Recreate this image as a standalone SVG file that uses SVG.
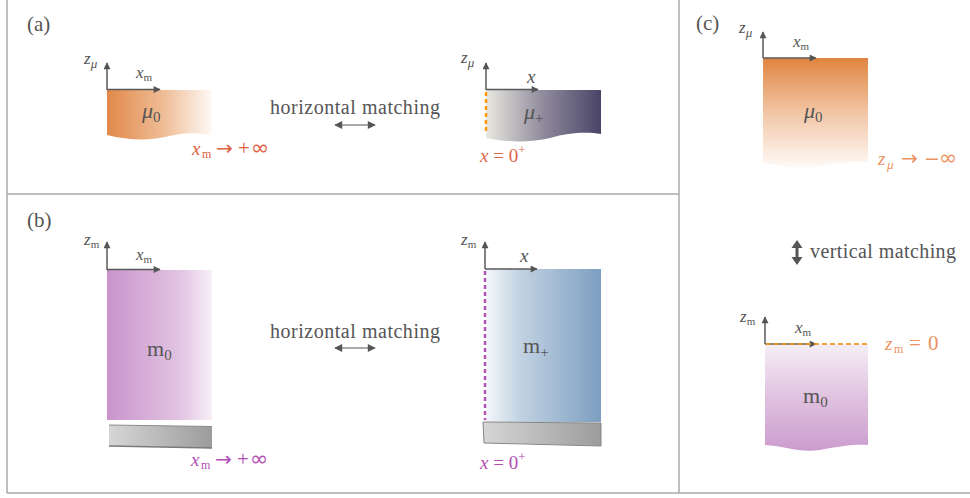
<svg xmlns="http://www.w3.org/2000/svg" width="970" height="498" viewBox="0 0 970 498" font-family="'Liberation Serif', 'DejaVu Serif', serif">
<defs>
<style>
text{font-family:"Liberation Serif","DejaVu Serif",serif;fill:#555}
.lbl{font-size:21px}
.ax{stroke:#5a5a5a;stroke-width:1.5;fill:none}
.i{font-style:italic}
.sym{font-family:"DejaVu Sans",sans-serif}
.frame{stroke:#aaa;stroke-width:1.5;fill:none}
.dbl{stroke:#555;stroke-width:1.2;fill:none}
</style>
<marker id="ah" viewBox="0 0 10 10" refX="9" refY="5" markerWidth="9" markerHeight="8" markerUnits="userSpaceOnUse" orient="auto-start-reverse">
<path d="M0,0 L10,5 L0,10 Z" fill="#555"/>
</marker>
<marker id="ah2" viewBox="0 0 10 10" refX="9" refY="5" markerWidth="8" markerHeight="7" markerUnits="userSpaceOnUse" orient="auto-start-reverse">
<path d="M0,0 L10,5 L0,10 Z" fill="#555"/>
</marker>
<linearGradient id="gOrH" x1="0" y1="0" x2="1" y2="0">
<stop offset="0" stop-color="#e2894a"/><stop offset="0.55" stop-color="#efbe98"/><stop offset="1" stop-color="#fefaf6"/>
</linearGradient>
<linearGradient id="gDark" x1="0" y1="0" x2="1" y2="0">
<stop offset="0" stop-color="#e9e8e0"/><stop offset="0.5" stop-color="#8f8a9c"/><stop offset="1" stop-color="#4a4568"/>
</linearGradient>
<linearGradient id="gPuH" x1="0" y1="0" x2="1" y2="0">
<stop offset="0" stop-color="#c994cc"/><stop offset="0.7" stop-color="#e2c4e2"/><stop offset="1" stop-color="#f7eff7"/>
</linearGradient>
<linearGradient id="gBlue" x1="0" y1="0" x2="1" y2="0">
<stop offset="0" stop-color="#f6f8fb"/><stop offset="0.3" stop-color="#c2d2e2"/><stop offset="1" stop-color="#7d9fc1"/>
</linearGradient>
<linearGradient id="gGray" x1="0" y1="0" x2="1" y2="0">
<stop offset="0" stop-color="#d6d6d6"/><stop offset="1" stop-color="#9c9c9c"/>
</linearGradient>
<linearGradient id="gOrV" x1="0" y1="0" x2="0" y2="1">
<stop offset="0" stop-color="#e08440"/><stop offset="0.5" stop-color="#f2c6a6"/><stop offset="1" stop-color="#fefaf7"/>
</linearGradient>
<linearGradient id="gPuV" x1="0" y1="0" x2="0" y2="1">
<stop offset="0" stop-color="#f6eef6"/><stop offset="0.5" stop-color="#e0c2e0"/><stop offset="1" stop-color="#cb9ccf"/>
</linearGradient>
</defs>

<g id="frame">
<line class="frame" x1="7" y1="0" x2="7" y2="493"/>
<line class="frame" x1="7" y1="493" x2="970" y2="493"/>
<line class="frame" x1="679" y1="0" x2="679" y2="493"/>
<line class="frame" x1="7" y1="194" x2="679" y2="194"/>
</g>

<g id="panel-labels">
<text class="lbl" x="27" y="31">(a)</text>
<text class="lbl" x="27" y="227">(b)</text>
<text class="lbl" x="696" y="30">(c)</text>
</g>

<!-- (a) left -->
<g id="a-mu0">
<path d="M107,90 H212 V135 C195,132 180,133 165,137 C148,141 127,140 107,135 Z" fill="url(#gOrH)"/>
<text x="142" y="118" font-size="22"><tspan class="i">μ</tspan><tspan font-size="15" dy="4">0</tspan></text>
<text y="155" font-size="19" style="fill:#e0603f"><tspan x="192" class="i">x</tspan><tspan x="202" dy="3" font-size="12">m</tspan><tspan x="216" dy="-3" class="sym" font-size="20">→</tspan><tspan x="238" font-size="21">+</tspan><tspan x="251" class="sym" font-size="22">∞</tspan></text>
</g>
<g id="a-mu0-axes">
<line class="ax" x1="107" y1="90" x2="107" y2="63" marker-end="url(#ah2)"/>
<line class="ax" x1="107" y1="89.5" x2="160" y2="89.5" marker-end="url(#ah2)"/>
<text x="84" y="64" font-size="17"><tspan class="i">z</tspan><tspan class="i" font-size="13" dy="4">μ</tspan></text>
<text x="136" y="78" font-size="17"><tspan class="i">x</tspan><tspan font-size="11" dy="3">m</tspan></text>
</g>

<!-- (a) right -->
<g id="a-muplus">
<path d="M486,90 H601 V134 C588,132 570,132 550,138 C530,143 505,142 486,138 Z" fill="url(#gDark)"/>
<line x1="486" y1="92" x2="486" y2="131" stroke="#ff9a10" stroke-width="2.5" stroke-dasharray="4 3"/>
<text x="524" y="119" font-size="22"><tspan class="i">μ</tspan><tspan font-size="15" dy="4">+</tspan></text>
<text x="480" y="162" font-size="19" style="fill:#e0654a"><tspan class="i">x</tspan> = 0<tspan font-size="13" dy="-8">+</tspan></text>
</g>
<g id="a-muplus-axes">
<line class="ax" x1="486" y1="90" x2="486" y2="63" marker-end="url(#ah2)"/>
<line class="ax" x1="486" y1="89.5" x2="538" y2="89.5" marker-end="url(#ah2)"/>
<text x="461" y="63" font-size="17"><tspan class="i">z</tspan><tspan class="i" font-size="13" dy="4">μ</tspan></text>
<text x="527" y="83" font-size="19" class="i">x</text>
</g>

<g id="a-matching">
<text x="270" y="114" font-size="20" textLength="170" lengthAdjust="spacing">horizontal matching</text>
</g>

<!-- (b) left -->
<g id="b-m0">
<rect x="107" y="270" width="105" height="150" fill="url(#gPuH)"/>
<path d="M109,425 L212,426.5 L212,448 L109,446 Z" fill="url(#gGray)"/>
<line x1="109" y1="425" x2="212" y2="426.5" stroke="#8c8c8c" stroke-width="1"/>
<line x1="109" y1="446" x2="212" y2="448" stroke="#7a7a7a" stroke-width="1.3"/>
<text x="147" y="356" font-size="22">m<tspan font-size="15" dy="4">0</tspan></text>
<text y="466" font-size="19" style="fill:#b14db3"><tspan x="191" class="i">x</tspan><tspan x="201" dy="3" font-size="12">m</tspan><tspan x="215" dy="-3" class="sym" font-size="20">→</tspan><tspan x="237" font-size="21">+</tspan><tspan x="250" class="sym" font-size="22">∞</tspan></text>
</g>
<g id="b-m0-axes">
<line class="ax" x1="107" y1="270" x2="107" y2="242" marker-end="url(#ah2)"/>
<line class="ax" x1="107" y1="269.5" x2="160" y2="269.5" marker-end="url(#ah2)"/>
<text x="84" y="245" font-size="17"><tspan class="i">z</tspan><tspan font-size="11" dy="3">m</tspan></text>
<text x="136" y="260" font-size="17"><tspan class="i">x</tspan><tspan font-size="11" dy="3">m</tspan></text>
</g>

<!-- (b) right -->
<g id="b-mplus">
<rect x="485" y="269" width="116" height="153" fill="url(#gBlue)"/>
<path d="M483,422 L601,423 L601,446 L484,443 Z" fill="url(#gGray)" stroke="#888" stroke-width="1"/>
<line x1="485" y1="271" x2="485" y2="420" stroke="#b352b5" stroke-width="2.5" stroke-dasharray="4 3"/>
<text x="523" y="353" font-size="22">m<tspan font-size="15" dy="4">+</tspan></text>
<text x="480" y="469" font-size="19" style="fill:#b14db3"><tspan class="i">x</tspan> = 0<tspan font-size="13" dy="-8">+</tspan></text>
</g>
<g id="b-mplus-axes">
<line class="ax" x1="485" y1="269" x2="485" y2="242" marker-end="url(#ah2)"/>
<line class="ax" x1="485" y1="269" x2="537" y2="269" marker-end="url(#ah2)"/>
<text x="461" y="245" font-size="17"><tspan class="i">z</tspan><tspan font-size="11" dy="3">m</tspan></text>
<text x="520" y="262" font-size="19" class="i">x</text>
</g>

<g id="b-matching">
<text x="270" y="338" font-size="20" textLength="170" lengthAdjust="spacing">horizontal matching</text>
</g>

<!-- (c) -->
<g id="c-mu0">
<path d="M763,58 H868 V162 C850,161 835,163 815,167 C795,170 780,165 763,163 Z" fill="url(#gOrV)"/>
<text x="804" y="118" font-size="22"><tspan class="i">μ</tspan><tspan font-size="15" dy="4">0</tspan></text>
<text y="165" font-size="19" style="fill:#ea9262"><tspan x="878" class="i">z</tspan><tspan x="887" dy="4" class="i" font-size="13">μ</tspan><tspan x="901" dy="-4" class="sym" font-size="20">→</tspan><tspan x="924" class="sym" font-size="19">−</tspan><tspan x="939" class="sym" font-size="22">∞</tspan></text>
</g>
<g id="c-mu0-axes">
<line class="ax" x1="763" y1="58" x2="763" y2="32" marker-end="url(#ah2)"/>
<line class="ax" x1="763" y1="58" x2="816" y2="58" marker-end="url(#ah2)"/>
<text x="739" y="33" font-size="17"><tspan class="i">z</tspan><tspan class="i" font-size="13" dy="4">μ</tspan></text>
<text x="793" y="47" font-size="17"><tspan class="i">x</tspan><tspan font-size="11" dy="3">m</tspan></text>
</g>

<g id="c-m0">
<path d="M765,344 H868 V445 C855,444 840,446 820,450 C800,453 785,446 765,445 Z" fill="url(#gPuV)"/>
<text x="803" y="403" font-size="22">m<tspan font-size="15" dy="4">0</tspan></text>
<text y="350" font-size="19" style="fill:#ea9262"><tspan x="885" class="i">z</tspan><tspan x="894" dy="3" font-size="12">m</tspan><tspan x="909" dy="-3" font-size="21">=</tspan><tspan x="928" font-size="21">0</tspan></text>
</g>
<g id="c-m0-axes">
<line class="ax" x1="765" y1="344" x2="765" y2="317" marker-end="url(#ah2)"/>
<line class="ax" x1="765" y1="344" x2="816" y2="344" marker-end="url(#ah2)"/>
<line x1="766" y1="344" x2="868" y2="344" stroke="#f7941d" stroke-width="2" stroke-dasharray="5 3" opacity="0.85"/>
<text x="740" y="322" font-size="17"><tspan class="i">z</tspan><tspan font-size="11" dy="3">m</tspan></text>
<text x="795" y="333" font-size="17"><tspan class="i">x</tspan><tspan font-size="11" dy="3">m</tspan></text>
</g>

<g id="c-matching">
<text x="810" y="258" font-size="20" textLength="146" lengthAdjust="spacing">vertical matching</text>
</g>

<g id="connectors">
<line class="dbl" x1="335" y1="125" x2="375" y2="125" marker-start="url(#ah)" marker-end="url(#ah)"/>
<line class="dbl" x1="335" y1="348" x2="375" y2="348" marker-start="url(#ah)" marker-end="url(#ah)"/>
<line x1="797" y1="243" x2="797" y2="262" stroke="#555" stroke-width="3"/>
<path d="M791.5,248 L797,240 L802.5,248 Z M791.5,257 L797,265 L802.5,257 Z" fill="#555"/>
</g>
</svg>
